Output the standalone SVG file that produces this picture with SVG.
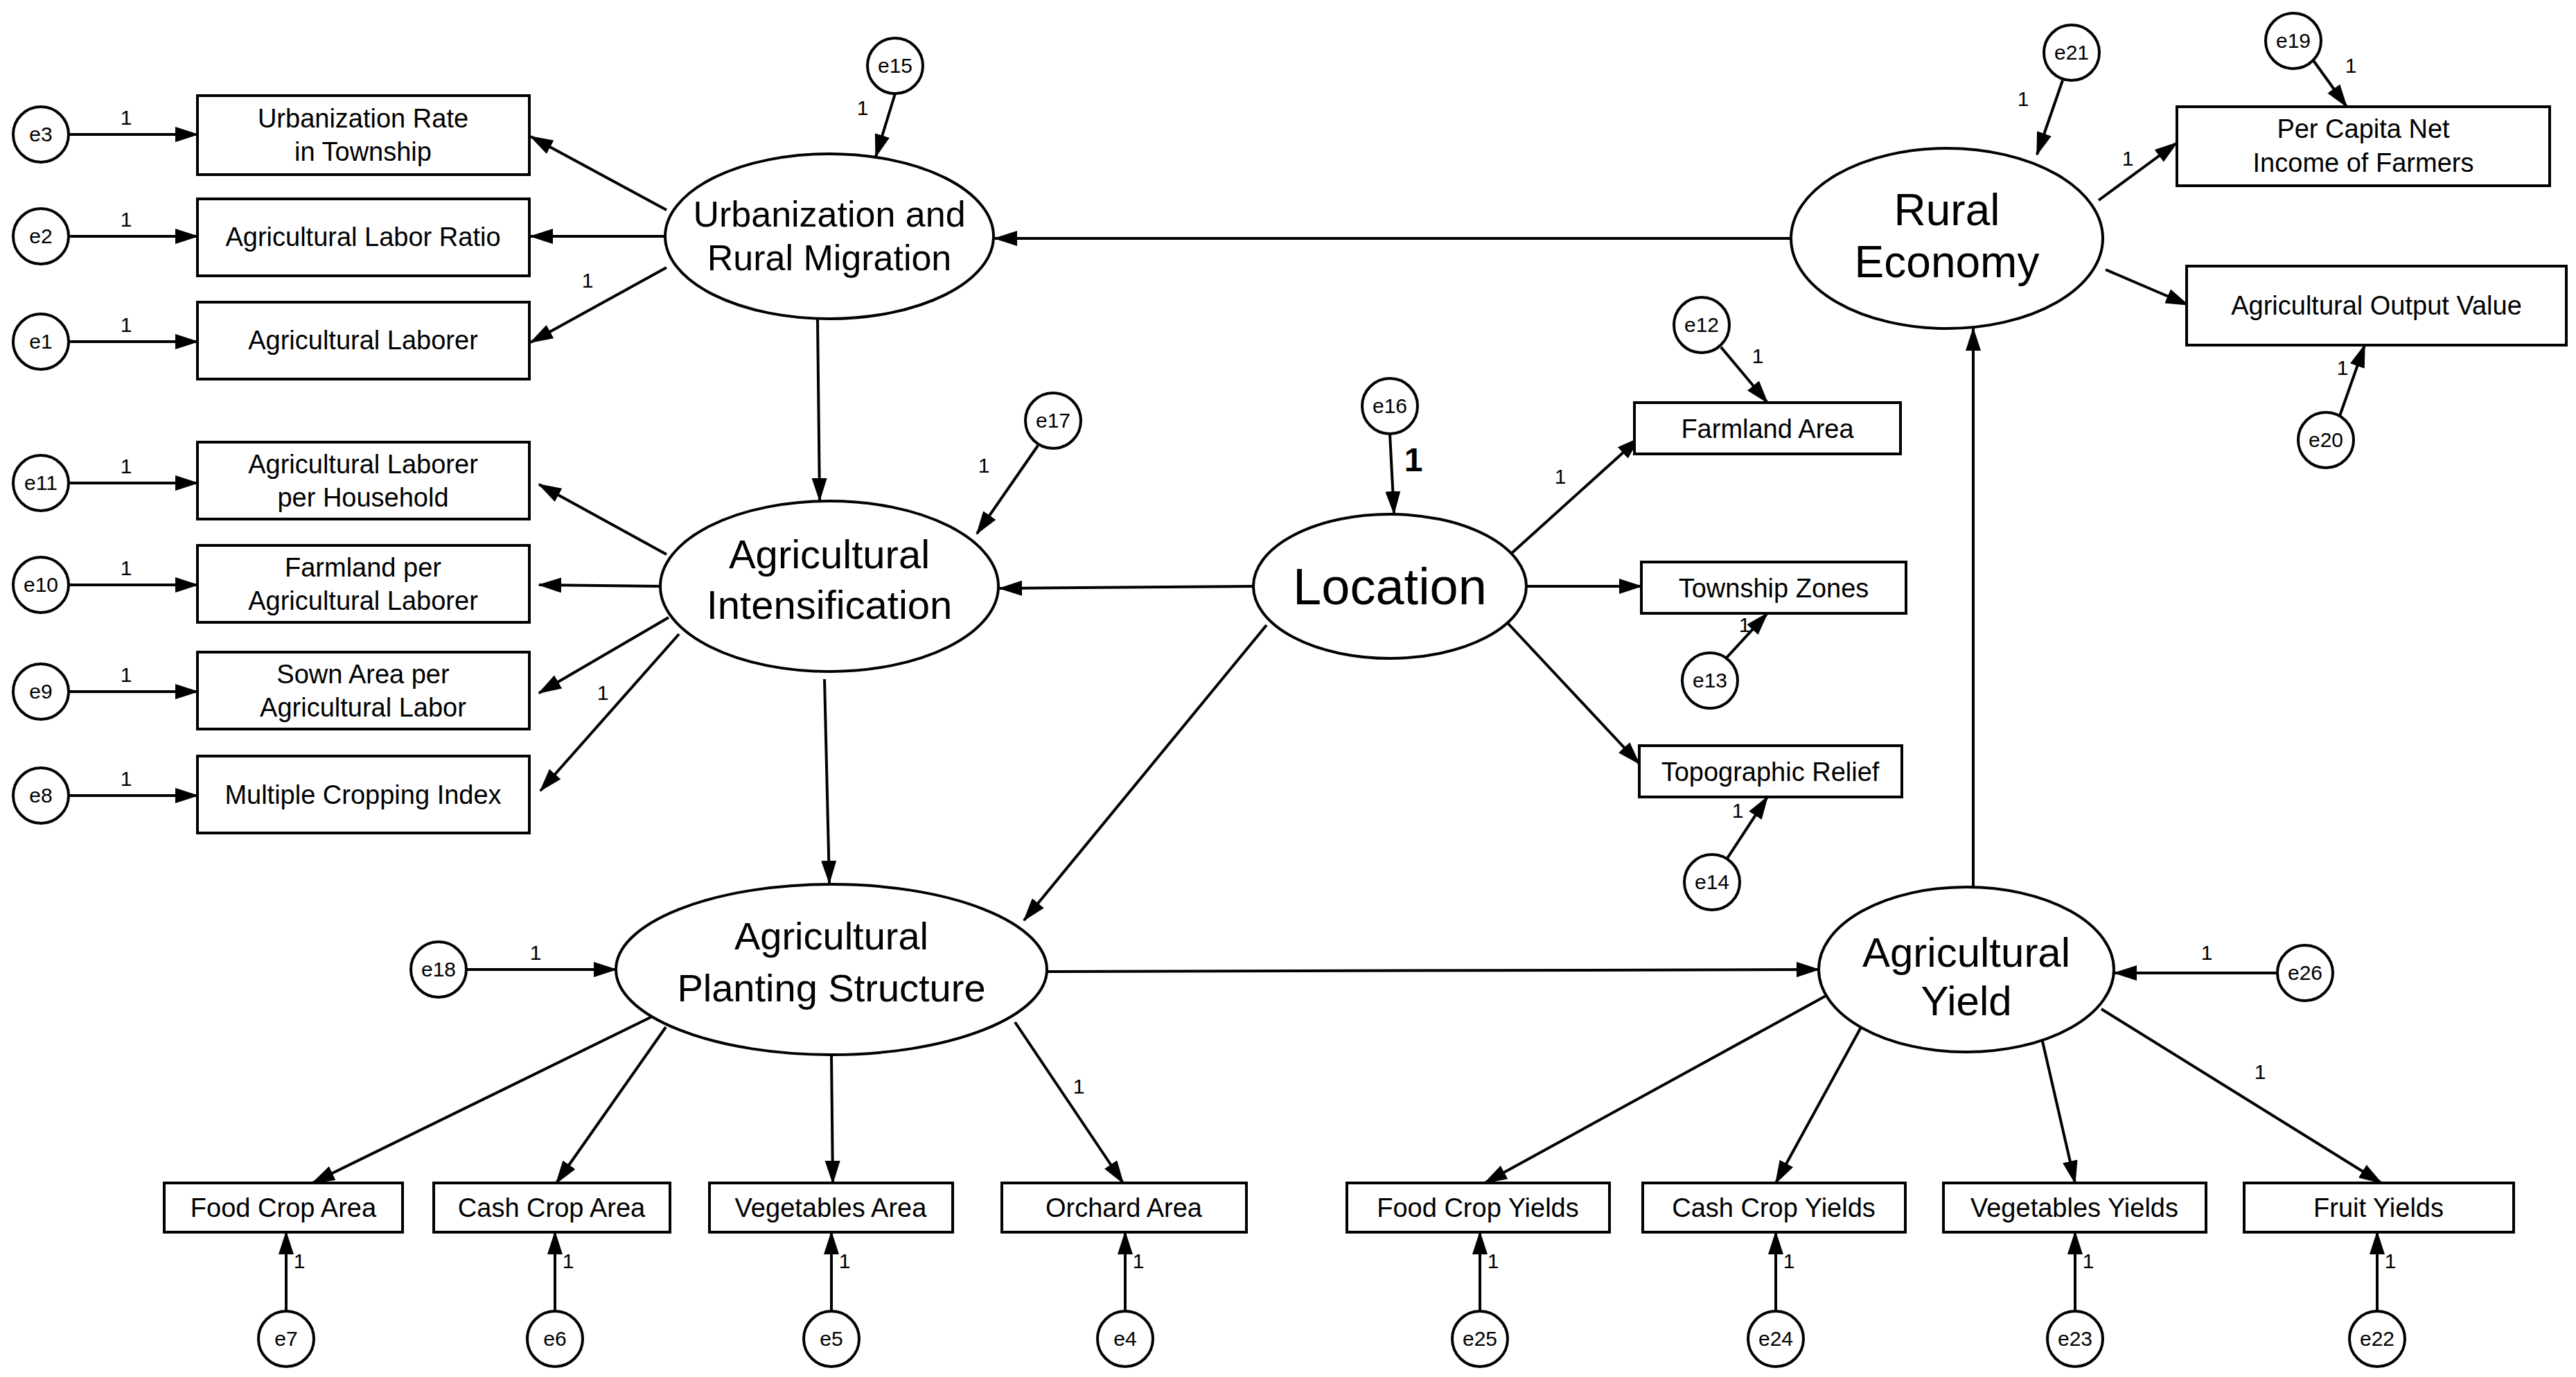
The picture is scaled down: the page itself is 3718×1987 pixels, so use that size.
<svg xmlns="http://www.w3.org/2000/svg" width="3718" height="1987" viewBox="0 0 3718 1987">
<style>
.n ellipse,.n rect,.n circle{fill:#fff;stroke:#000;stroke-width:4}
text{font-family:"Liberation Sans",Arial,sans-serif;fill:#000;text-anchor:middle}
.r{font-size:38px}
.e{font-size:30px}
.o{font-size:30px}
#c line{stroke:#000;stroke-width:4;marker-end:url(#a)}
</style>
<defs><marker id="a" markerUnits="userSpaceOnUse" markerWidth="34" markerHeight="22" refX="32" refY="11" orient="auto"><path d="M0,0L34,11L0,22z" fill="#000"/></marker></defs>
<g id="c">
<line x1="99" y1="194" x2="285" y2="194"/><line x1="99" y1="341" x2="285" y2="341"/><line x1="99" y1="493" x2="285" y2="493"/>
<line x1="99" y1="697" x2="285" y2="697"/><line x1="99" y1="844" x2="285" y2="844"/><line x1="99" y1="998" x2="285" y2="998"/><line x1="99" y1="1148" x2="285" y2="1148"/>
<line x1="962" y1="303" x2="766" y2="197"/><line x1="962" y1="341" x2="766" y2="341"/><line x1="962" y1="386" x2="766" y2="494"/>
<line x1="1292" y1="135" x2="1264" y2="226"/><line x1="2586" y1="344" x2="1436" y2="344"/><line x1="1180" y1="460" x2="1183" y2="722"/>
<line x1="962" y1="800" x2="778" y2="699"/><line x1="955" y1="846" x2="778" y2="844"/><line x1="965" y1="891" x2="778" y2="1000"/><line x1="980" y1="915" x2="780" y2="1141"/>
<line x1="1498" y1="643" x2="1410" y2="770"/><line x1="1809" y1="846" x2="1443" y2="849"/><line x1="1828" y1="902" x2="1478" y2="1328"/>
<line x1="1190" y1="980" x2="1197" y2="1274"/><line x1="2006" y1="626" x2="2012" y2="741"/>
<line x1="2181" y1="799" x2="2366" y2="632"/><line x1="2203" y1="846" x2="2369" y2="846"/><line x1="2176" y1="899" x2="2366" y2="1102"/>
<line x1="2484" y1="501" x2="2551" y2="581"/><line x1="2492" y1="949" x2="2551" y2="885"/><line x1="2492" y1="1240" x2="2551" y2="1150"/>
<line x1="2977" y1="116" x2="2940" y2="223"/><line x1="3338" y1="86" x2="3387" y2="154"/><line x1="3029" y1="289" x2="3142" y2="206"/>
<line x1="3039" y1="389" x2="3158" y2="440"/><line x1="3377" y1="600" x2="3413" y2="498"/><line x1="2848" y1="1280" x2="2848" y2="474"/>
<line x1="1511" y1="1402" x2="2625" y2="1399"/><line x1="673" y1="1399" x2="889" y2="1399"/><line x1="3287" y1="1404" x2="3052" y2="1404"/>
<line x1="943" y1="1466" x2="451" y2="1707"/><line x1="961" y1="1482" x2="803" y2="1707"/><line x1="1200" y1="1522" x2="1202" y2="1707"/><line x1="1465" y1="1475" x2="1621" y2="1707"/>
<line x1="2648" y1="1430" x2="2143" y2="1707"/><line x1="2695" y1="1466" x2="2563" y2="1707"/><line x1="2946" y1="1494" x2="2995" y2="1707"/><line x1="3033" y1="1456" x2="3437" y2="1707"/>
<line x1="413" y1="1892" x2="413" y2="1778"/><line x1="801" y1="1892" x2="801" y2="1778"/><line x1="1200" y1="1892" x2="1200" y2="1778"/><line x1="1624" y1="1892" x2="1624" y2="1778"/>
<line x1="2136" y1="1892" x2="2136" y2="1778"/><line x1="2563" y1="1892" x2="2563" y2="1778"/><line x1="2995" y1="1892" x2="2995" y2="1778"/><line x1="3431" y1="1892" x2="3431" y2="1778"/>
<g class="o">
<text x="182" y="180">1</text><text x="182" y="327">1</text><text x="182" y="479">1</text><text x="182" y="683">1</text><text x="182" y="830">1</text><text x="182" y="984">1</text><text x="182" y="1134">1</text>
<text x="848" y="415">1</text><text x="1245" y="166">1</text><text x="870" y="1010" fill="#555">1</text><text x="1420" y="682">1</text>
<text x="2040" y="680" style="font-size:48px;font-weight:bold">1</text>
<text x="2252" y="698">1</text><text x="2537" y="524">1</text><text x="2518" y="912">1</text><text x="2508" y="1180">1</text>
<text x="2920" y="153">1</text><text x="3393" y="105">1</text><text x="3071" y="239">1</text><text x="3381" y="541">1</text>
<text x="773" y="1385">1</text><text x="3185" y="1385">1</text><text x="1557" y="1578">1</text><text x="3262" y="1557">1</text>
<text x="432" y="1830">1</text><text x="820" y="1830">1</text><text x="1219" y="1830">1</text><text x="1643" y="1830">1</text>
<text x="2155" y="1830">1</text><text x="2582" y="1830">1</text><text x="3014" y="1830">1</text><text x="3450" y="1830">1</text>
</g>
</g>
<g id="urb" class="n"><ellipse cx="1197" cy="341" rx="237" ry="119"/><text x="1197" y="327" style="font-size:52px">Urbanization and</text><text x="1197" y="390" style="font-size:52px">Rural Migration</text></g>
<g id="int" class="n"><ellipse cx="1197" cy="846" rx="244" ry="123"/><text x="1197" y="820" style="font-size:58px">Agricultural</text><text x="1197" y="893" style="font-size:58px">Intensification</text></g>
<g id="loc" class="n"><ellipse cx="2006" cy="846" rx="197" ry="104"/><text x="2006" y="872" style="font-size:74px">Location</text></g>
<g id="pla" class="n"><ellipse cx="1200" cy="1399" rx="311" ry="123"/><text x="1200" y="1370" style="font-size:56px">Agricultural</text><text x="1200" y="1445" style="font-size:56px">Planting Structure</text></g>
<g id="yld" class="n"><ellipse cx="2838" cy="1399" rx="213" ry="119"/><text x="2838" y="1395" style="font-size:60px">Agricultural</text><text x="2838" y="1465" style="font-size:60px">Yield</text></g>
<g id="eco" class="n"><ellipse cx="2810" cy="344" rx="225" ry="130"/><text x="2810" y="325" style="font-size:64px">Rural</text><text x="2810" y="400" style="font-size:64px">Economy</text></g>
<g id="r1" class="n"><rect x="285" y="138" width="479" height="114"/><text class="r" x="524" y="184">Urbanization Rate</text><text class="r" x="524" y="232">in Township</text></g>
<g id="r2" class="n"><rect x="285" y="287" width="479" height="111"/><text class="r" x="524" y="355">Agricultural Labor Ratio</text></g>
<g id="r3" class="n"><rect x="285" y="436" width="479" height="111"/><text class="r" x="524" y="504">Agricultural Laborer</text></g>
<g id="r4" class="n"><rect x="285" y="638" width="479" height="111"/><text class="r" x="524" y="683">Agricultural Laborer</text><text class="r" x="524" y="731">per Household</text></g>
<g id="r5" class="n"><rect x="285" y="787" width="479" height="111"/><text class="r" x="524" y="832">Farmland per</text><text class="r" x="524" y="880">Agricultural Laborer</text></g>
<g id="r6" class="n"><rect x="285" y="941" width="479" height="111"/><text class="r" x="524" y="986">Sown Area per</text><text class="r" x="524" y="1034">Agricultural Labor</text></g>
<g id="r7" class="n"><rect x="285" y="1091" width="479" height="111"/><text class="r" x="524" y="1160">Multiple Cropping Index</text></g>
<g id="r8" class="n"><rect x="3142" y="154" width="538" height="114"/><text class="r" x="3411" y="199">Per Capita Net</text><text class="r" x="3411" y="248">Income of Farmers</text></g>
<g id="r9" class="n"><rect x="3156" y="384" width="548" height="114"/><text class="r" x="3430" y="454">Agricultural Output Value</text></g>
<g id="r10" class="n"><rect x="2359" y="581" width="384" height="74"/><text class="r" x="2551" y="632">Farmland Area</text></g>
<g id="r11" class="n"><rect x="2369" y="811" width="382" height="74"/><text class="r" x="2560" y="862">Township Zones</text></g>
<g id="r12" class="n"><rect x="2366" y="1076" width="379" height="74"/><text class="r" x="2555" y="1127">Topographic Relief</text></g>
<g id="r13" class="n"><rect x="237" y="1707" width="344" height="71"/><text class="r" x="409" y="1756">Food Crop Area</text></g>
<g id="r14" class="n"><rect x="626" y="1707" width="341" height="71"/><text class="r" x="796" y="1756">Cash Crop Area</text></g>
<g id="r15" class="n"><rect x="1024" y="1707" width="351" height="71"/><text class="r" x="1199" y="1756">Vegetables Area</text></g>
<g id="r16" class="n"><rect x="1446" y="1707" width="353" height="71"/><text class="r" x="1622" y="1756">Orchard Area</text></g>
<g id="r17" class="n"><rect x="1944" y="1707" width="379" height="71"/><text class="r" x="2133" y="1756">Food Crop Yields</text></g>
<g id="r18" class="n"><rect x="2371" y="1707" width="379" height="71"/><text class="r" x="2560" y="1756">Cash Crop Yields</text></g>
<g id="r19" class="n"><rect x="2805" y="1707" width="379" height="71"/><text class="r" x="2994" y="1756">Vegetables Yields</text></g>
<g id="r20" class="n"><rect x="3239" y="1707" width="389" height="71"/><text class="r" x="3433" y="1756">Fruit Yields</text></g>
<g id="e3" class="n"><circle cx="59" cy="194" r="40"/><text class="e" x="59" y="204">e3</text></g>
<g id="e2" class="n"><circle cx="59" cy="341" r="40"/><text class="e" x="59" y="351">e2</text></g>
<g id="e1" class="n"><circle cx="59" cy="493" r="40"/><text class="e" x="59" y="503">e1</text></g>
<g id="e11" class="n"><circle cx="59" cy="697" r="40"/><text class="e" x="59" y="707">e11</text></g>
<g id="e10" class="n"><circle cx="59" cy="844" r="40"/><text class="e" x="59" y="854">e10</text></g>
<g id="e9" class="n"><circle cx="59" cy="998" r="40"/><text class="e" x="59" y="1008">e9</text></g>
<g id="e8" class="n"><circle cx="59" cy="1148" r="40"/><text class="e" x="59" y="1158">e8</text></g>
<g id="e15" class="n"><circle cx="1292" cy="95" r="40"/><text class="e" x="1292" y="105">e15</text></g>
<g id="e17" class="n"><circle cx="1520" cy="607" r="40"/><text class="e" x="1520" y="617">e17</text></g>
<g id="e16" class="n"><circle cx="2006" cy="586" r="40"/><text class="e" x="2006" y="596">e16</text></g>
<g id="e12" class="n"><circle cx="2456" cy="469" r="40"/><text class="e" x="2456" y="479">e12</text></g>
<g id="e13" class="n"><circle cx="2468" cy="982" r="40"/><text class="e" x="2468" y="992">e13</text></g>
<g id="e14" class="n"><circle cx="2471" cy="1273" r="40"/><text class="e" x="2471" y="1283">e14</text></g>
<g id="e21" class="n"><circle cx="2990" cy="76" r="40"/><text class="e" x="2990" y="86">e21</text></g>
<g id="e19" class="n"><circle cx="3310" cy="59" r="40"/><text class="e" x="3310" y="69">e19</text></g>
<g id="e20" class="n"><circle cx="3357" cy="635" r="40"/><text class="e" x="3357" y="645">e20</text></g>
<g id="e18" class="n"><circle cx="633" cy="1399" r="40"/><text class="e" x="633" y="1409">e18</text></g>
<g id="e26" class="n"><circle cx="3327" cy="1404" r="40"/><text class="e" x="3327" y="1414">e26</text></g>
<g id="e7" class="n"><circle cx="413" cy="1932" r="40"/><text class="e" x="413" y="1942">e7</text></g>
<g id="e6" class="n"><circle cx="801" cy="1932" r="40"/><text class="e" x="801" y="1942">e6</text></g>
<g id="e5" class="n"><circle cx="1200" cy="1932" r="40"/><text class="e" x="1200" y="1942">e5</text></g>
<g id="e4" class="n"><circle cx="1624" cy="1932" r="40"/><text class="e" x="1624" y="1942">e4</text></g>
<g id="e25" class="n"><circle cx="2136" cy="1932" r="40"/><text class="e" x="2136" y="1942">e25</text></g>
<g id="e24" class="n"><circle cx="2563" cy="1932" r="40"/><text class="e" x="2563" y="1942">e24</text></g>
<g id="e23" class="n"><circle cx="2995" cy="1932" r="40"/><text class="e" x="2995" y="1942">e23</text></g>
<g id="e22" class="n"><circle cx="3431" cy="1932" r="40"/><text class="e" x="3431" y="1942">e22</text></g>
</svg>
